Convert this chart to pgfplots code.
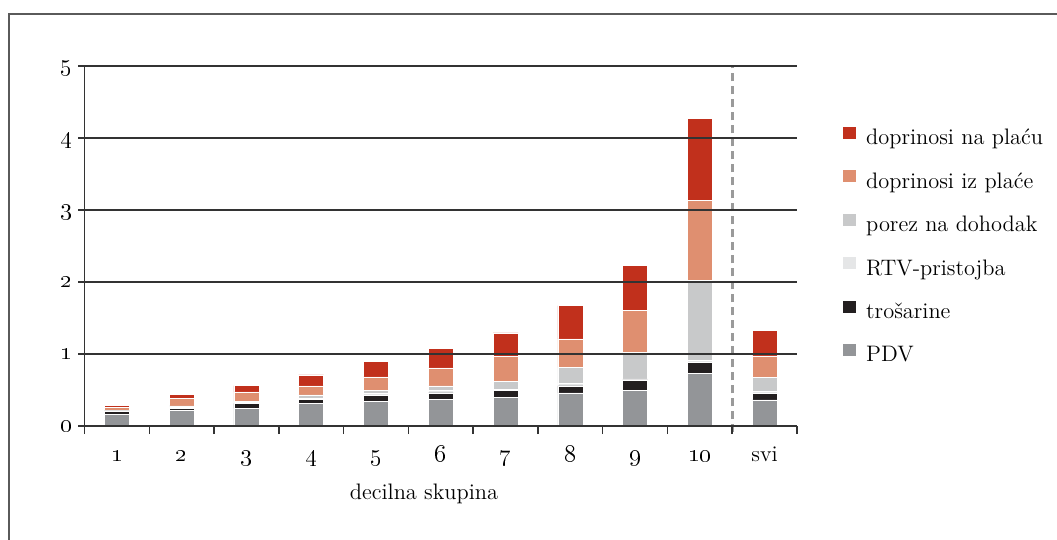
\documentclass[border=0pt]{standalone}
\usepackage{pgfplots}
\pgfplotsset{compat=1.18}
\usepackage{pgfplotstable}
\definecolor{cNa}{HTML}{C1301C}
\definecolor{cIz}{HTML}{DF8F70}
\definecolor{cPorez}{HTML}{C8C9CA}
\definecolor{cRTV}{HTML}{E5E6E7}
\definecolor{cTros}{HTML}{231F20}
\definecolor{cPDV}{HTML}{939598}
\definecolor{gridc}{HTML}{333333}
\definecolor{framec}{HTML}{5A5A5A}
\definecolor{dashc}{HTML}{9A9A9A}
\pgfplotstableread{
x pdv tros rtv porez iz na
0 0.16 0.05 0.008 0.000 0.040 0.030
1 0.22 0.03 0.015 0.015 0.100 0.060
2 0.25 0.065 0.015 0.015 0.130 0.085
3 0.31 0.056 0.020 0.045 0.126 0.154
4 0.345 0.084 0.020 0.045 0.187 0.215
5 0.37 0.09 0.037 0.060 0.250 0.270
6 0.40 0.09 0.015 0.117 0.340 0.330
7 0.46 0.098 0.033 0.220 0.400 0.460
8 0.49 0.15 0.015 0.365 0.590 0.617
9 0.735 0.144 0.037 1.106 1.116 1.130
10 0.363 0.088 0.028 0.195 0.300 0.350
}\data
\newcommand{\fs}{\fontsize{11.2bp}{13.4bp}\selectfont}
\newcommand{\fd}{\fontsize{12.5bp}{14bp}\selectfont}
\begin{document}
\begin{tikzpicture}
\useasboundingbox (-42.25bp,-57bp) rectangle (486.25bp,213bp);
\draw[color=framec, line width=1bp] (-37.75bp,-60bp) -- (-37.75bp,206bp) -- (490bp,206bp);
\begin{axis}[
  at={(0,0)}, anchor=south west,
  scale only axis, width=356.25bp, height=180bp,
  ybar stacked, bar width=12.5bp,
  xmin=-0.5, xmax=10.5, ymin=0, ymax=5,
  clip=false, axis on top,
  axis x line=bottom, axis y line=left,
  axis line style={-, color=gridc, line width=0.75bp},
  tick align=outside,
  ytick={0,1,2,3,4,5},
  yticklabels={\oldstylenums{0},\oldstylenums{1},\oldstylenums{2},\oldstylenums{3},\oldstylenums{4},\oldstylenums{5}},
  xtick={0,1,2,3,4,5,6,7,8,9,10},
  xticklabels={\oldstylenums{1},\oldstylenums{2},\oldstylenums{3},\oldstylenums{4},\oldstylenums{5},\oldstylenums{6},\oldstylenums{7},\oldstylenums{8},\oldstylenums{9},\oldstylenums{10},{\fs svi}},
  minor xtick={-0.5,0.5,1.5,2.5,3.5,4.5,5.5,6.5,7.5,8.5,9.5,10.5},
  major tick length=3bp, minor tick length=4bp,
  every major x tick/.append style={draw=none},
  every tick/.append style={color=gridc, line width=0.75bp},
  minor tick style={color=gridc, line width=0.75bp},
  ymajorgrids, major grid style={color=gridc, line width=0.75bp},
  xticklabel style={font=\fd, anchor=base, inner sep=0pt, yshift=-14.75bp},
  yticklabel style={font=\fd, anchor=base east, inner sep=0pt, xshift=-3bp, yshift=-2.7bp},
  xlabel={decilna skupina},
  xlabel style={font=\fs, at={(axis description cs:0.4765,0)}, anchor=center, yshift=-34bp},
  reverse legend,
  legend cell align=left,
  legend image code/.code={\fill[#1] (0bp,0.3bp) rectangle (6.8bp,6.8bp);},
  legend style={at={(axis description cs:1,1)}, anchor=north west,
    xshift=22.5bp, yshift=-30bp, draw=none, fill=none, inner sep=0pt, outer sep=0pt,
    font=\fs, row sep=9.75bp,
    nodes={inner sep=0pt, text height=7.5bp, text depth=2.5bp},
    /tikz/every odd column/.append style={column sep=5bp}},
]
\addplot[fill=cPDV, draw=white, line width=0.3bp] table[x=x,y=pdv]{\data};
\addlegendentry{PDV}
\addplot[fill=cTros, draw=white, line width=0.3bp] table[x=x,y=tros]{\data};
\addlegendentry{trošarine}
\addplot[fill=cRTV, draw=white, line width=0.3bp] table[x=x,y=rtv]{\data};
\addlegendentry{RTV-pristojba}
\addplot[fill=cPorez, draw=white, line width=0.3bp] table[x=x,y=porez]{\data};
\addlegendentry{porez na dohodak}
\addplot[fill=cIz, draw=white, line width=0.3bp] table[x=x,y=iz]{\data};
\addlegendentry{doprinosi iz plaće}
\addplot[fill=cNa, draw=white, line width=0.3bp] table[x=x,y=na]{\data};
\addlegendentry{doprinosi na plaću}
\draw[dashc, line width=1.5bp, dash pattern=on 4bp off 2.5bp] (axis cs:9.5,-0.09) -- (axis cs:9.5,5);
\end{axis}
\end{tikzpicture}
\end{document}
